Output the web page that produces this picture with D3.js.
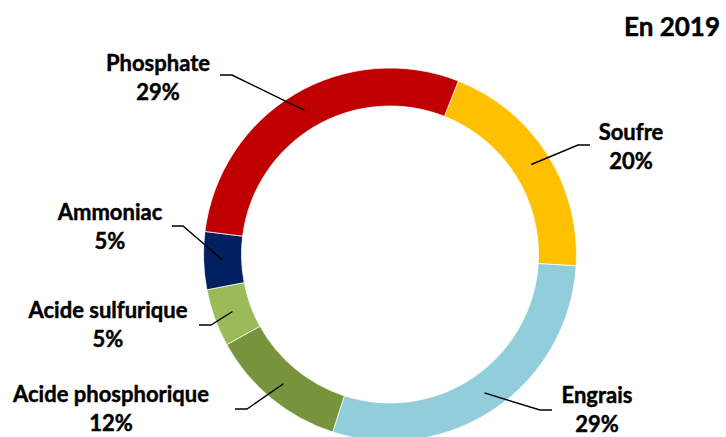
<!DOCTYPE html>
<html>
<head>
<meta charset="utf-8">
<script src="https://cdn.jsdelivr.net/npm/d3@7"></script>
<style>
  body { margin: 0; background: #fff; }
  text { font-family: Lato, "DejaVu Sans", sans-serif; font-weight: bold; fill: #000;
         stroke: #000; stroke-width: 0.45px; }
</style>
</head>
<body>
<div class="chart"></div>
<script>
// data (percent of total, 2019)
var categories = ["Soufre", "Engrais", "Acide phosphorique", "Acide sulfurique", "Ammoniac", "Phosphate"];
var shares = [20, 29, 12, 5, 5, 29];
var colours = ["#FFC000", "#92CDDC", "#77933C", "#9BBB59", "#002060", "#C00000"];
var title = "En 2019";

// size of the drawing
var svgWidth = 726;
var svgHeight = 437;
var cx = 390, cy = 254.5;
var outerR = 186.5, innerR = 148.5;
var startDeg = 21.5;

// where each label sits (text centre x, first baseline y) and the elbow of its leader
var labelLayout = {
  "Soufre":             {x: 631, y: 140, elbowX: 578, lineY: 145, endX: 590},
  "Engrais":            {x: 597, y: 403, elbowX: 540, lineY: 410, endX: 552},
  "Acide phosphorique": {x: 111, y: 402, elbowX: 247, lineY: 409, endX: 235},
  "Acide sulfurique":   {x: 108, y: 318, elbowX: 211, lineY: 325, endX: 199},
  "Ammoniac":           {x: 110, y: 220, elbowX: 183, lineY: 226, endX: 172},
  "Phosphate":          {x: 158, y: 71,  elbowX: 232, lineY: 75,  endX: 220}
};

var svg = d3.select(".chart")
  .append("svg")
  .attr("width", svgWidth)
  .attr("height", svgHeight);

var rows = categories.map(function(c, i) {
  return {name: c, value: shares[i], colour: colours[i]};
});

var pie = d3.pie()
  .sort(null)
  .value(function(d) { return d.value; })
  .startAngle(startDeg * Math.PI / 180)
  .endAngle((startDeg + 360) * Math.PI / 180);

var arc = d3.arc().innerRadius(innerR).outerRadius(outerR);

var chart = svg.append("g")
  .attr("transform", "translate(" + cx + "," + cy + ")");

var slices = pie(rows);

chart.selectAll("path")
  .data(slices)
  .enter()
  .append("path")
  .attr("d", arc)
  .attr("fill", function(d) { return d.data.colour; })
  .attr("stroke", "#fff")
  .attr("stroke-width", 0.75);

// leader lines: from the middle of the ring out to an elbow, then flat to the label
chart.selectAll("polyline")
  .data(slices)
  .enter()
  .append("polyline")
  .attr("fill", "none")
  .attr("stroke", "#000")
  .attr("stroke-width", 1.4)
  .attr("points", function(d) {
    var c = arc.centroid(d);
    var l = labelLayout[d.data.name];
    return [
      [c[0], c[1]],
      [l.elbowX - cx, l.lineY - cy],
      [l.endX - cx, l.lineY - cy]
    ].join(" ");
  });

var labels = svg.selectAll("text.lbl")
  .data(rows)
  .enter()
  .append("text")
  .attr("class", "lbl")
  .style("font-size", "22px")
  .attr("text-anchor", "middle");

labels.append("tspan")
  .attr("x", function(d) { return labelLayout[d.name].x; })
  .attr("y", function(d) { return labelLayout[d.name].y; })
  .text(function(d) { return d.name; });

labels.append("tspan")
  .attr("x", function(d) { return labelLayout[d.name].x; })
  .attr("y", function(d) { return labelLayout[d.name].y + 29; })
  .text(function(d) { return d.value + "%"; });

svg.append("text")
  .attr("x", 720)
  .attr("y", 36)
  .attr("text-anchor", "end")
  .style("font-size", "26px")
  .text(title);
</script>
</body>
</html>
